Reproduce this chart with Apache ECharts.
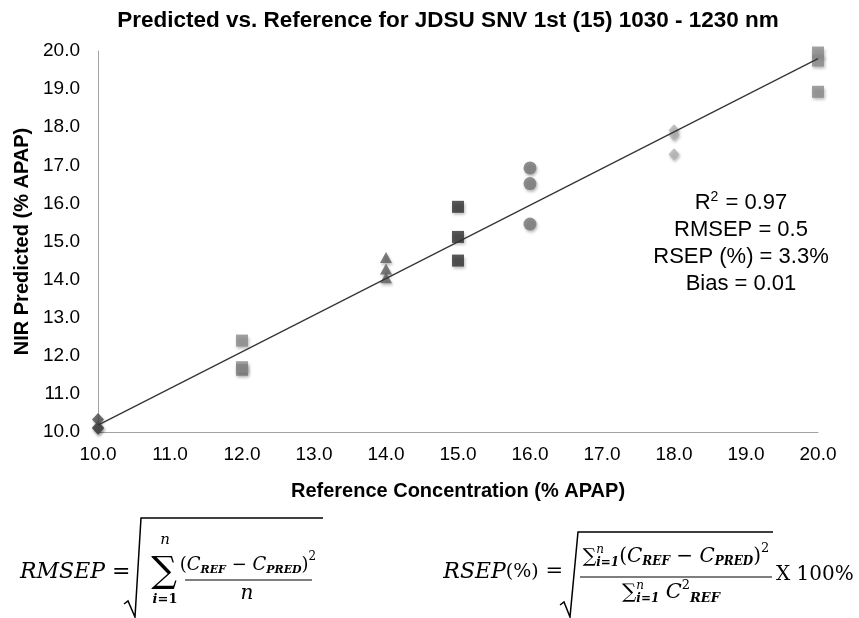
<!DOCTYPE html>
<html>
<head>
<meta charset="utf-8">
<script src="https://cdn.jsdelivr.net/npm/echarts@6/dist/echarts.min.js"></script>
<style>
  html, body { margin: 0; padding: 0; background: #fff; }
  #chart { width: 859px; height: 618px; }
</style>
</head>
<body>
<div id="chart"></div>
<script>
// Reference concentrations (% APAP) and NIR predictions for each level
const refLevels = [10, 12, 14, 15, 16, 18, 20];
const predAt10 = [10.33, 10.10, 10.12];
const predAt12 = [12.40, 11.63, 11.70];
const predAt14 = [14.58, 14.28, 14.05];
const predAt15 = [15.91, 15.12, 14.50];
const predAt16 = [16.93, 16.52, 15.46];
const predAt18 = [17.92, 17.80, 17.29];
const predAt20 = [19.96, 19.75, 18.93];
const predictions = [predAt10, predAt12, predAt14, predAt15, predAt16, predAt18, predAt20];

// Linear fit end points
const fitX = [10, 20];
const fitY = [10.18, 19.80];

// Figures of merit
const statValues = { r2: '0.97', rmsep: '0.5', rsep: '3.3%', bias: '0.01' };

const titleText = 'Predicted vs. Reference for JDSU SNV 1st (15) 1030 - 1230 nm';
const xName = 'Reference Concentration (% APAP)';
const yName = 'NIR Predicted (% APAP)';

// Marker look per concentration level
const markerStyles = [
  { symbol: 'diamond',  size: [12, 13], color: '#4a4a4a' },
  { symbol: 'rect',     size: 12,       color: '#8a8a8a' },
  { symbol: 'triangle', size: [12, 11], color: '#5c5c5c' },
  { symbol: 'rect',     size: 12,       color: '#2f2f2f' },
  { symbol: 'circle',   size: 13,       color: '#767676' },
  { symbol: 'diamond',  size: [11, 12], color: '#b2b2b2' },
  { symbol: 'rect',     size: 12,       color: '#8a8a8a' }
];

const SANS = 'Liberation Sans, Arial, sans-serif';
const MATH = 'DejaVu Serif';

// ---- small text layout helper for the equations ----
const mctx = document.createElement('canvas').getContext('2d');
function fontOf(t) {
  return (t.italic ? 'italic ' : '') + (t.bold ? 'bold ' : '') + t.size + 'px ' + (t.family || MATH);
}
function tokWidth(t) {
  if (t.stack) return Math.max.apply(null, t.stack.map(tokWidth));
  mctx.font = fontOf(t);
  return mctx.measureText(t.text).width + (t.gap || 0);
}
function rowWidth(tokens) { return tokens.reduce((w, t) => w + tokWidth(t), 0); }
function textEl(t, x, y) {
  return {
    type: 'text', x: x, y: y + (t.dy || 0), silent: true,
    style: {
      text: t.text, fill: '#000',
      fontSize: t.size, fontFamily: t.family || MATH,
      fontStyle: t.italic ? 'italic' : 'normal',
      fontWeight: t.bold ? 'bold' : 'normal',
      align: 'left', textAlign: 'left', verticalAlign: 'middle', textVerticalAlign: 'middle'
    }
  };
}
function placeRow(tokens, x, y, out) {
  let cx = x;
  tokens.forEach(t => {
    if (t.stack) t.stack.forEach(s => out.push(textEl(s, cx, y)));
    else out.push(textEl(t, cx, y));
    cx += tokWidth(t);
  });
  return cx;
}
function placeCentered(tokens, cx, y, out) { return placeRow(tokens, cx - rowWidth(tokens) / 2, y, out); }
function placeEndingAt(tokens, right, y, out) { return placeRow(tokens, right - rowWidth(tokens), y, out); }
const tk = (text, size, opt) => Object.assign({ text: text, size: size }, opt || {});

const graphics = [];

// statistics block
const statRows = [
  [tk('R', 22, { family: SANS }), tk('2', 14, { family: SANS, dy: -6, gap: 1 }), tk(' = ' + statValues.r2, 22, { family: SANS })],
  [tk('RMSEP = ' + statValues.rmsep, 22, { family: SANS })],
  [tk('RSEP (%) = ' + statValues.rsep, 22, { family: SANS })],
  [tk('Bias = ' + statValues.bias, 22, { family: SANS })]
];
statRows.forEach((row, i) => placeCentered(row, 741, 203 + i * 27, graphics));

// RMSEP equation
placeRow([tk('RMSEP', 22, { italic: true }), tk(' =', 22)], 20, 572, graphics);
graphics.push({ type: 'polyline', silent: true,
  shape: { points: [[124, 604], [128, 601], [135, 617], [141, 518], [323, 518]] },
  style: { stroke: '#000', lineWidth: 1.5, fill: null } });
placeCentered([tk('\u2211', 36)], 164, 573, graphics);
placeCentered([tk('n', 15, { italic: true })], 165, 540, graphics);
placeCentered([tk('i', 13, { italic: true, bold: true }), tk('=1', 13, { bold: true })], 165, 600, graphics);
const numTokens = [
  tk('(', 18), tk('C', 18, { italic: true }), tk('REF', 11, { italic: true, bold: true, dy: 5 }),
  tk(' \u2212 ', 18), tk('C', 18, { italic: true }), tk('PRED', 11, { italic: true, bold: true, dy: 5 }),
  tk(')', 18), tk('2', 12, { dy: -8 })
];
placeCentered(numTokens, 248, 565, graphics);
graphics.push({ type: 'line', silent: true, shape: { x1: 185, y1: 580, x2: 312, y2: 580 }, style: { stroke: '#000', lineWidth: 1.2 } });
placeCentered([tk('n', 20, { italic: true })], 247, 594, graphics);

// RSEP equation
placeEndingAt([tk('RSEP', 22, { italic: true }), tk('(%)', 19), tk(' =', 21)], 563, 572, graphics);
graphics.push({ type: 'polyline', silent: true,
  shape: { points: [[560, 605], [564, 602], [570, 617], [578, 532], [773, 532]] },
  style: { stroke: '#000', lineWidth: 1.5, fill: null } });
const sumIdx = { stack: [tk('n', 12, { italic: true, dy: -7 }), tk('i=1', 12, { italic: true, bold: true, dy: 6 })] };
const rsepNum = [
  tk('\u2211', 19), sumIdx,
  tk('(', 20), tk('C', 20, { italic: true }), tk('REF', 12, { italic: true, bold: true, dy: 5 }),
  tk(' \u2212 ', 20), tk('C', 20, { italic: true }), tk('PRED', 12, { italic: true, bold: true, dy: 5 }),
  tk(')', 20), tk('2', 13, { dy: -8 })
];
placeCentered(rsepNum, 676, 557, graphics);
graphics.push({ type: 'line', silent: true, shape: { x1: 580, y1: 577, x2: 772, y2: 577 }, style: { stroke: '#000', lineWidth: 1.2 } });
const rsepDen = [
  tk('\u2211', 20), sumIdx, tk(' ', 20),
  tk('C', 21, { italic: true }), tk('2', 13, { dy: -7 }), tk('REF', 13, { italic: true, bold: true, dy: 6 })
];
placeCentered(rsepDen, 671, 593, graphics);
placeRow([tk('X 100%', 20)], 776, 575, graphics);

// ---- chart ----
const scatterSeries = predictions.map((vals, i) => ({
  type: 'scatter',
  symbol: markerStyles[i].symbol,
  symbolSize: markerStyles[i].size,
  itemStyle: {
    color: markerStyles[i].color,
    shadowBlur: 3, shadowOffsetX: 1, shadowOffsetY: 2, shadowColor: 'rgba(0,0,0,0.35)'
  },
  data: vals.map(v => [refLevels[i], v]),
  z: 2
}));

const fitSeries = {
  type: 'line',
  data: fitX.map((x, i) => [x, fitY[i]]),
  symbol: 'none',
  lineStyle: { color: '#333', width: 1.2 },
  z: 3
};

const axisCommon = {
  type: 'value', min: 10, max: 20, interval: 1,
  axisLine: { show: true, lineStyle: { color: '#a3a3a3', width: 1 } },
  axisTick: { show: false },
  splitLine: { show: false },
  nameLocation: 'middle',
  nameTextStyle: { fontFamily: SANS, fontSize: 20, fontWeight: 'bold', color: '#000' }
};

const chart = echarts.init(document.getElementById('chart'), null, { renderer: 'canvas' });
chart.setOption({
  backgroundColor: '#fff',
  animation: false,
  title: {
    text: titleText, left: 448, top: 9, textAlign: 'center', padding: 0,
    textStyle: { fontFamily: SANS, fontSize: 22.5, fontWeight: 'bold', color: '#000' }
  },
  grid: { left: 98, right: 41, top: 51, bottom: 186, containLabel: false },
  xAxis: Object.assign({}, axisCommon, {
    name: xName, nameGap: 49,
    axisLabel: { fontFamily: SANS, fontSize: 19, color: '#000', margin: 13, formatter: v => v.toFixed(1) }
  }),
  yAxis: Object.assign({}, axisCommon, {
    name: yName, nameGap: 64,
    axisLabel: { fontFamily: SANS, fontSize: 19, color: '#000', margin: 18, formatter: v => v.toFixed(1) }
  }),
  series: scatterSeries.concat([fitSeries]),
  graphic: graphics
});
</script>
</body>
</html>
